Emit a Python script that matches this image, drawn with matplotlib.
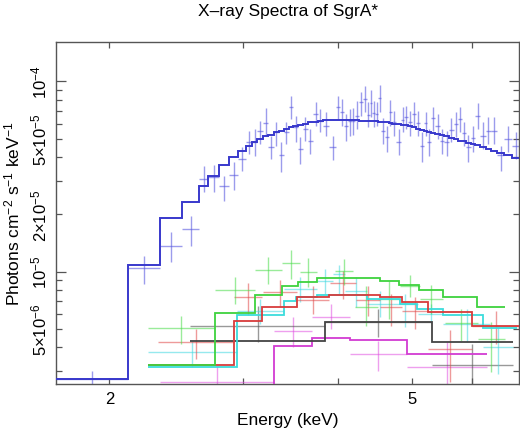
import matplotlib
matplotlib.use('Agg')
import matplotlib.pyplot as plt
import numpy as np

plt.rcParams['font.family'] = ['Liberation Sans', 'DejaVu Sans']
plt.rcParams['mathtext.fontset'] = 'custom'
plt.rcParams['mathtext.rm'] = 'Liberation Sans'
plt.rcParams['mathtext.it'] = 'Liberation Sans:italic'
plt.rcParams['mathtext.bf'] = 'Liberation Sans:bold'

# ---------------- data (flux in units of 1e-5 photons cm^-2 s^-1 keV^-1) ----------------
blue_edges = [1.702, 2.114, 2.332, 2.495, 2.624, 2.698, 2.788, 2.876, 2.950, 3.021, 3.077,
              3.131, 3.189, 3.236, 3.289, 3.341, 3.389, 3.440, 3.491, 3.539, 3.589, 3.644,
              3.705, 3.762, 3.813, 3.891, 3.970, 4.020, 4.066, 4.117, 4.164, 4.210, 4.257,
              4.306, 4.357, 4.397, 4.431, 4.469, 4.513, 4.555, 4.602, 4.658, 4.709, 4.769,
              4.832, 4.883, 4.938, 4.998, 5.056, 5.116, 5.179, 5.238, 5.299, 5.366, 5.435,
              5.509, 5.593, 5.672, 5.744, 5.809, 5.882, 5.971, 6.057, 6.149, 6.248, 6.344,
              6.464, 6.613, 6.758, 6.920]
blue_flux = [0.274, 1.042, 1.37, 1.67, 3.07, 3.15, 2.83, 3.23, 3.91, 4.78,
             4.78, 5.46, 6.04, 4.54, 5.40, 4.10, 5.40, 7.30, 5.73, 4.41,
             5.62, 4.88, 6.73, 6.21, 5.85, 4.50, 7.30, 6.87, 5.85, 6.21,
             6.21, 6.60, 7.76, 8.07, 6.65, 7.69, 6.82, 6.73, 8.14, 5.50,
             5.08, 6.87, 6.09, 4.82, 6.28, 6.47, 6.09, 6.73, 6.04, 4.59,
             6.04, 4.78, 6.39, 5.80, 4.88, 4.78, 5.57, 5.97, 6.34, 5.35,
             4.50, 5.02, 6.55, 5.18, 5.50, 5.50, 4.10, 4.98, 4.59]
blue_hi = [0.302, 1.21, 1.61, 1.97, 3.58, 3.64, 3.19, 3.75, 4.50, 5.50,
           5.62, 6.21, 7.21, 5.18, 6.09, 4.78, 6.09, 8.34, 6.60, 5.08,
           6.47, 5.62, 7.76, 7.15, 6.87, 5.14, 8.40, 8.07, 6.73, 7.15,
           7.21, 7.91, 8.82, 9.48, 7.76, 9.03, 7.91, 7.76, 9.56, 6.39,
           5.85, 8.01, 7.01, 5.62, 7.30, 7.44, 7.01, 7.76, 7.01, 5.40,
           6.92, 5.62, 7.30, 6.73, 5.62, 5.50, 6.39, 6.87, 7.30, 6.09,
           5.22, 5.85, 7.69, 6.09, 6.47, 6.47, 4.59, 5.85, 5.40]
blue_lo = [0.250, 0.862, 1.12, 1.37, 2.61, 2.61, 2.36, 2.70, 3.39, 4.15,
           4.07, 4.69, 5.18, 3.91, 4.59, 3.33, 4.69, 6.34, 4.78, 3.68,
           4.88, 4.15, 5.85, 5.40, 5.18, 3.88, 6.34, 5.85, 4.88, 5.18,
           5.22, 5.62, 6.60, 6.87, 5.73, 6.47, 5.73, 5.85, 6.87, 4.69,
           4.24, 5.85, 5.18, 4.10, 5.40, 5.62, 5.18, 5.73, 5.18, 3.75,
           5.18, 4.07, 5.50, 4.98, 4.15, 4.07, 4.78, 5.08, 5.40, 4.59,
           3.78, 4.27, 5.62, 4.41, 4.69, 4.69, 3.39, 4.24, 3.91]
blue_model = [0.274, 1.084, 1.91, 2.31, 2.83, 3.19, 3.62, 4.00, 4.32, 4.57,
              4.80, 4.98, 5.13, 5.22, 5.40, 5.48, 5.62, 5.72, 5.82, 5.90,
              6.00, 6.08, 6.14, 6.19, 6.23, 6.26, 6.30, 6.28, 6.26, 6.26,
              6.25, 6.23, 6.21, 6.20, 6.19, 6.19, 6.18, 6.17, 6.15, 6.13,
              6.09, 6.04, 6.00, 5.97, 5.91, 5.86, 5.79, 5.72, 5.65, 5.58,
              5.51, 5.43, 5.37, 5.31, 5.24, 5.14, 5.06, 4.98, 4.88, 4.83,
              4.76, 4.69, 4.61, 4.52, 4.43, 4.33, 4.20, 4.08, 3.96]

green_edges = [2.245, 2.754, 3.108, 3.369, 3.540, 3.750, 4.536, 4.805, 5.105, 5.490, 6.085, 6.622]
green_model = [0.325, 0.605, 0.757, 0.844, 0.886, 0.923, 0.897, 0.855, 0.804, 0.734, 0.650]
green_elo = [2.245, 2.754, 3.108, 3.369, 3.562, 3.960, 4.206, 4.509, 4.820, 5.116, 5.523, 6.103]
green_ehi = [2.754, 3.108, 3.369, 3.562, 3.746, 4.181, 4.509, 4.820, 5.116, 5.494, 6.103, 6.622]
green_flux = [0.504, 0.804, 1.027, 1.11, 0.996, 1.009, 0.653, 0.719, 0.841, 0.719, 0.536, 0.443]
green_hi = [0.587, 0.935, 1.19, 1.30, 1.18, 1.166, 0.841, 0.894, 0.961, 0.851, 0.637, 0.544]
green_lo = [0.417, 0.677, 0.862, 0.916, 0.828, 0.851, 0.519, 0.564, 0.736, 0.599, 0.433, 0.297]

red_edges = [2.245, 2.920, 3.175, 3.526, 3.888, 4.536, 4.845, 5.250, 5.987, 6.93]
red_model = [0.325, 0.553, 0.655, 0.734, 0.755, 0.739, 0.691, 0.616, 0.520]
red_elo = [2.317, 2.920, 3.184, 3.526, 3.899, 4.219, 4.536, 4.845, 5.250, 5.987]
red_ehi = [2.920, 3.172, 3.526, 3.888, 4.219, 4.536, 4.845, 5.250, 5.987, 6.93]
red_flux = [0.428, 0.734, 0.779, 0.710, 0.872, 0.710, 0.650, 0.622, 0.393, 0.516]
red_hi = [0.500, 0.869, 0.905, 0.841, 1.009, 0.841, 0.764, 0.736, 0.494, 0.622]
red_lo = [0.348, 0.594, 0.650, 0.599, 0.719, 0.585, 0.519, 0.500, 0.263, 0.417]

cyan_edges = [2.245, 2.941, 3.393, 3.519, 3.746, 4.357, 4.820, 5.070, 5.494, 6.200, 6.868]
cyan_model = [0.315, 0.592, 0.699, 0.739, 0.755, 0.719, 0.677, 0.637, 0.592, 0.506]
cyan_elo = [2.245, 2.941, 3.393, 3.746, 3.935, 4.082, 4.360, 4.719, 5.090, 5.494, 6.200]
cyan_ehi = [2.941, 3.393, 3.746, 3.935, 4.082, 4.360, 4.719, 5.090, 5.494, 6.326, 6.791]
cyan_flux = [0.377, 0.62, 0.811, 0.897, 0.973, 0.795, 0.677, 0.677, 0.599, 0.531, 0.402]
cyan_hi = [0.434, 0.72, 0.938, 1.033, 1.084, 0.938, 0.792, 0.764, 0.677, 0.637, 0.512]
cyan_lo = [0.315, 0.53, 0.693, 0.764, 0.764, 0.653, 0.578, 0.512, 0.544, 0.428, 0.290]

black_edges = [2.554, 3.841, 5.305, 6.791]
black_model = [0.434, 0.546, 0.426]
black_elo = [2.554, 3.841, 5.305]
black_ehi = [3.841, 5.305, 6.791]
black_flux = [0.519, 0.546, 0.322]
black_hi = [0.661, 0.637, 0.417]
black_lo = [0.428, 0.452, 0.254]

magenta_edges = [2.554, 3.295, 3.690, 4.143, 4.923, 6.271]
magenta_model = [0.228, 0.409, 0.447, 0.438, 0.368]
magenta_elo = [2.332, 3.295, 3.690, 4.143, 4.923]
magenta_ehi = [3.290, 3.690, 4.143, 4.923, 6.271]
magenta_flux = [0.265, 0.486, 0.580, 0.370, 0.315]
magenta_hi = [0.321, 0.576, 0.677, 0.434, 0.430]
magenta_lo = [0.235, 0.401, 0.500, 0.302, 0.240]

x_major = [2, 5]
x_major_labels = ['2', '5']
x_minor = [3, 4, 6]
y_major = [1e-5, 1e-4]
y_major_labels = [r'$10^{-5}$', r'$10^{-4}$']
y_minor = [3e-6, 4e-6, 5e-6, 6e-6, 7e-6, 8e-6, 9e-6,
           2e-5, 3e-5, 4e-5, 5e-5, 6e-5, 7e-5, 8e-5, 9e-5]
y_minor_labels = ['', '', r'$5{\times}10^{-6}$', '', '', '', '',
                  r'$2{\times}10^{-5}$', '', '', r'$5{\times}10^{-5}$', '', '', '', '']

UNIT = 1e-5

fig = plt.figure(figsize=(5.2, 4.31), dpi=100)
ax = fig.add_axes([0.1077, 0.1056, 0.8913, 0.7953])
ax.set_xscale('log')
ax.set_yscale('log')


def draw(edges, model, elo, ehi, flux, hi, lo, mcol, dcol, dalpha=0.55, mlw=1.3):
    elo = np.asarray(elo, float)
    ehi = np.asarray(ehi, float)
    flux = np.asarray(flux, float)
    hi = np.asarray(hi, float)
    lo = np.asarray(lo, float)
    xc = np.sqrt(elo * ehi)
    ax.errorbar(xc, flux * UNIT, xerr=[xc - elo, ehi - xc],
                yerr=[(flux - lo) * UNIT, (hi - flux) * UNIT],
                fmt='none', ecolor=dcol, elinewidth=1.0, alpha=dalpha,
                capsize=0, zorder=2)
    ax.stairs(np.asarray(model, float) * UNIT, edges, color=mcol, lw=mlw,
              baseline=None, zorder=3)


draw(magenta_edges, magenta_model, magenta_elo, magenta_ehi, magenta_flux,
     magenta_hi, magenta_lo, '#d23cd2', '#e050e0')
draw(black_edges, black_model, black_elo, black_ehi, black_flux,
     black_hi, black_lo, '#444444', '#555555', dalpha=0.6)
draw(cyan_edges, cyan_model, cyan_elo, cyan_ehi, cyan_flux,
     cyan_hi, cyan_lo, '#3cdcdc', '#40d8e0')
draw(red_edges, red_model, red_elo, red_ehi, red_flux,
     red_hi, red_lo, '#d83c3c', '#e04848')
draw(green_edges, green_model, green_elo, green_ehi, green_flux,
     green_hi, green_lo, '#3ed23e', '#48dc48')
draw(blue_edges, blue_model, blue_edges[:-1], blue_edges[1:], blue_flux,
     blue_hi, blue_lo, '#3838cc', '#5a5ae0', dalpha=0.6, mlw=1.4)

ax.set_xlim(1.702, 6.92)
ax.set_ylim(2.557e-6, 1.614e-4)

ax.set_xticks(x_major, x_major_labels)
ax.set_xticks(x_minor, [''] * len(x_minor), minor=True)
ax.set_yticks(y_major, y_major_labels)
ax.set_yticks(y_minor, y_minor_labels, minor=True)

spine_col = '#555555'
for s in ax.spines.values():
    s.set_color(spine_col)
    s.set_linewidth(1.0)

ax.tick_params(axis='both', which='both', direction='in', top=True, right=True,
               color=spine_col, width=0.9, labelsize=12, labelcolor='black')
ax.tick_params(axis='x', which='both', length=4, pad=5)
ax.tick_params(axis='y', which='major', length=7, pad=5)
ax.tick_params(axis='y', which='minor', length=4, pad=5)
for lab in ax.get_yticklabels(which='both'):
    lab.set_rotation(90)
    lab.set_va('center')

ax.set_xlabel('Energy (keV)', fontsize=12.5, labelpad=4)
ax.set_ylabel(r'Photons cm$^{-2}$ s$^{-1}$ keV$^{-1}$', fontsize=12.5, labelpad=5)
ax.set_title('X\u2013ray Spectra of SgrA*', fontsize=12.5, pad=19)

fig.savefig('out.png', dpi=100)
